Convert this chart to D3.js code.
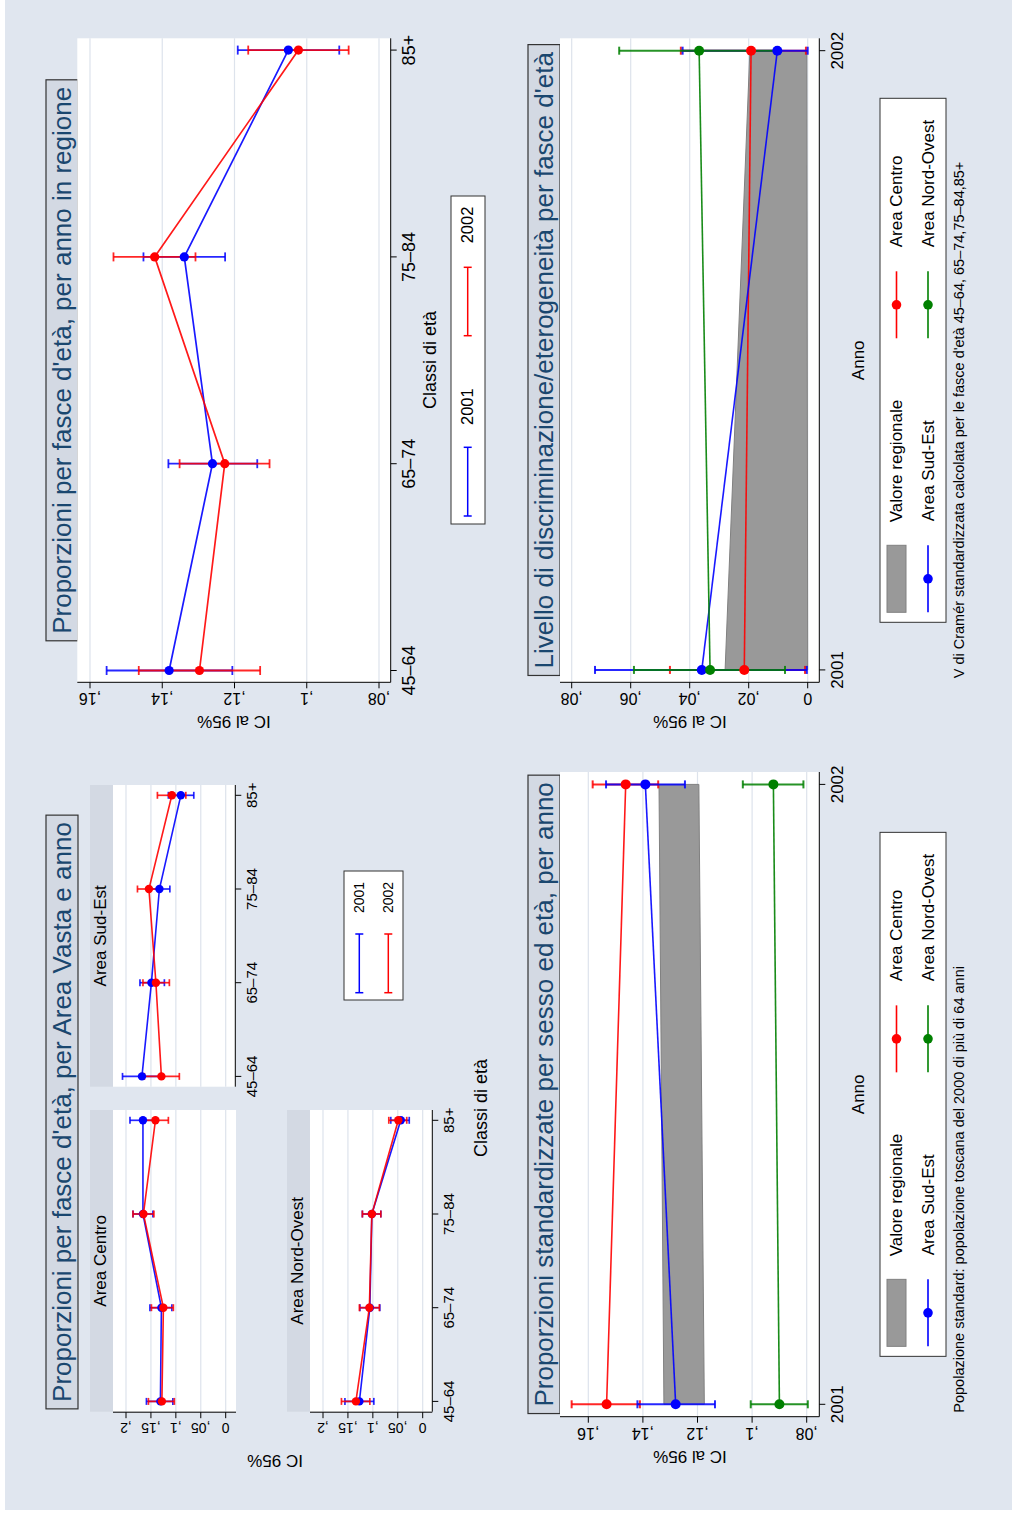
<!DOCTYPE html>
<html>
<head>
<meta charset="utf-8">
<title>Proporzioni per fasce d'età</title>
<script src="https://cdn.jsdelivr.net/npm/d3@7"></script>
<style>
  body { margin: 0; background: #fff; }
  svg { display: block; }
  text { font-family: "Liberation Sans", Arial, Helvetica, sans-serif; fill: #000; }
</style>
</head>
<body>
<script>
// classi di eta' e anni
var classi = ["45–64", "65–74", "75–84", "85+"];
var anni = ["2001", "2002"];

// Area Vasta: proporzioni per fascia d'eta' (stima e IC 95%)
var centro2001 = [0.131, 0.129, 0.166, 0.166];
var centro2001ci = [[0.106, 0.159], [0.108, 0.152], [0.146, 0.186], [0.141, 0.192]];
var centro2002 = [0.128, 0.125, 0.165, 0.141];
var centro2002ci = [[0.103, 0.155], [0.105, 0.149], [0.144, 0.186], [0.115, 0.166]];
var sudEst2001 = [0.168, 0.149, 0.133, 0.090];
var sudEst2001ci = [[0.129, 0.207], [0.123, 0.172], [0.112, 0.154], [0.064, 0.115]];
var sudEst2002 = [0.129, 0.140, 0.154, 0.108];
var sudEst2002ci = [[0.093, 0.163], [0.113, 0.166], [0.133, 0.177], [0.080, 0.137]];
var nordOvest2001 = [0.127, 0.106, 0.102, 0.044];
var nordOvest2001ci = [[0.098, 0.156], [0.086, 0.126], [0.084, 0.121], [0.027, 0.064]];
var nordOvest2002 = [0.134, 0.107, 0.102, 0.049];
var nordOvest2002ci = [[0.106, 0.163], [0.087, 0.127], [0.084, 0.121], [0.032, 0.068]];

// regione, per anno
var regione2001 = [0.1381, 0.1261, 0.1339, 0.1051];
var regione2001ci = [[0.1206, 0.1554], [0.1137, 0.1383], [0.1226, 0.1452], [0.0910, 0.1191]];
var regione2002 = [0.1297, 0.1227, 0.1421, 0.1023];
var regione2002ci = [[0.1129, 0.1465], [0.1103, 0.1352], [0.1308, 0.1535], [0.0884, 0.1162]];

// proporzioni standardizzate (2001, 2002)
var stdRegioneCi = [[0.1175, 0.1323], [0.1195, 0.1341]];
var stdCentro = [0.1533, 0.1463];
var stdCentroCi = [[0.1411, 0.1661], [0.1344, 0.1584]];
var stdSudEst = [0.1280, 0.1391];
var stdSudEstCi = [[0.1136, 0.1420], [0.1246, 0.1535]];
var stdNordOvest = [0.0900, 0.0922];
var stdNordOvestCi = [[0.0796, 0.1005], [0.0812, 0.1034]];

// V di Cramer (2001, 2002)
var vRegioneCi = [[0.0, 0.0280], [0.0003, 0.0196]];
var vCentro = [0.0215, 0.0192];
var vCentroCi = [[0.0009, 0.0467], [0.0006, 0.0430]];
var vSudEst = [0.0359, 0.0103];
var vSudEstCi = [[0.0003, 0.0721], [0.0, 0.0424]];
var vNordOvest = [0.0331, 0.0368];
var vNordOvestCi = [[0.0077, 0.0589], [0.0099, 0.0639]];

// tick
var ticksArea = [0, 0.05, 0.1, 0.15, 0.2];
var ticksRegione = [0.08, 0.10, 0.12, 0.14, 0.16];
var ticksStd = [0.08, 0.10, 0.12, 0.14, 0.16];
var ticksCramer = [0, 0.02, 0.04, 0.06, 0.08];

var BG = "#e0e6ef", STRIP = "#d3d9e3", GRID = "#dde3ec", TITLE = "#1a476f";
var BLUE = "#0000ff", RED = "#ff0000", GREEN = "#008000", BAND = "#999999";

// comma decimal, no leading zero (Stata style)
function itFmt(v) {
  if (v === 0) return "0";
  return d3.format(".2~f")(v).replace(/^0\./, ",");
}

var svg = d3.select("body").append("svg").attr("width", 1018).attr("height", 1517);
svg.append("rect").attr("x", 5).attr("y", 0).attr("width", 1007).attr("height", 1510).attr("fill", BG);

// the page is landscape, turned a quarter left
var page = svg.append("g").attr("transform", "translate(0,1517) rotate(-90)");

function titleBox(cx, y0, y1, txt) {
  var r = page.append("rect");
  var t = page.append("text").attr("x", cx).attr("y", (y0 + y1) / 2).attr("dy", "0.35em")
    .attr("text-anchor", "middle").style("font-size", "26px").style("fill", TITLE).text(txt);
  var bb = t.node().getBBox();
  r.attr("x", bb.x - 7).attr("width", bb.width + 14).attr("y", y0).attr("height", y1 - y0)
    .attr("fill", STRIP).attr("stroke", "#333").attr("stroke-width", 1.2);
}

function plotBg(x0, x1, y0, y1) {
  page.append("rect").attr("x", x0).attr("y", y0).attr("width", x1 - x0).attr("height", y1 - y0).attr("fill", "#fff");
}

function gridLines(y, ticks, x0, x1) {
  page.append("g").selectAll("line").data(ticks).join("line")
    .attr("x1", x0).attr("x2", x1).attr("y1", d => y(d)).attr("y2", d => y(d))
    .attr("stroke", GRID).attr("stroke-width", 1.2);
}

function yAxis(ax, y0, y1, y, ticks, fs) {
  var g = page.append("g");
  g.append("line").attr("x1", ax).attr("x2", ax).attr("y1", y0).attr("y2", y1).attr("stroke", "#000");
  g.selectAll(".tk").data(ticks).join("line").attr("class", "tk")
    .attr("x1", ax - 6).attr("x2", ax).attr("y1", d => y(d)).attr("y2", d => y(d)).attr("stroke", "#000");
  g.selectAll("text").data(ticks).join("text")
    .attr("transform", d => "translate(" + (ax - 11) + "," + y(d) + ") rotate(-90)")
    .attr("text-anchor", "middle").style("font-size", fs + "px").text(itFmt);
}

function xAxis(ay, x0, x1, x, cats, fs, off) {
  var g = page.append("g");
  g.append("line").attr("x1", x0).attr("x2", x1).attr("y1", ay).attr("y2", ay).attr("stroke", "#000");
  g.selectAll(".tk").data(cats).join("line").attr("class", "tk")
    .attr("x1", d => x(d)).attr("x2", d => x(d)).attr("y1", ay).attr("y2", ay + 6).attr("stroke", "#000");
  g.selectAll("text").data(cats).join("text")
    .attr("x", d => x(d)).attr("y", ay + off)
    .attr("text-anchor", "middle").style("font-size", fs + "px").text(d => d);
}

function ciBars(x, y, cats, ci, color, cap, w) {
  var g = page.append("g").attr("stroke", color).attr("stroke-width", w).attr("stroke-opacity", 0.85);
  g.selectAll(".v").data(ci).join("line").attr("class", "v")
    .attr("x1", (d, i) => x(cats[i])).attr("x2", (d, i) => x(cats[i]))
    .attr("y1", d => y(d[0])).attr("y2", d => y(d[1]));
  [0, 1].forEach(function (k) {
    g.selectAll(".c" + k).data(ci).join("line").attr("class", "c" + k)
      .attr("x1", (d, i) => x(cats[i]) - cap).attr("x2", (d, i) => x(cats[i]) + cap)
      .attr("y1", d => y(d[k])).attr("y2", d => y(d[k]));
  });
}

function lineDots(x, y, cats, est, color, r, w) {
  var line = d3.line().x((d, i) => x(cats[i])).y(d => y(d));
  page.append("path").datum(est).attr("d", line).attr("fill", "none")
    .attr("stroke", color).attr("stroke-width", w).attr("stroke-opacity", 0.9);
  page.append("g").selectAll("circle").data(est).join("circle")
    .attr("cx", (d, i) => x(cats[i])).attr("cy", d => y(d)).attr("r", r).attr("fill", color);
}

function rotLabel(x, y, txt, fs) {
  page.append("text").attr("transform", "translate(" + x + "," + y + ") rotate(-90)")
    .attr("text-anchor", "middle").style("font-size", fs + "px").text(txt);
}

function label(x, y, txt, fs, anchor) {
  return page.append("text").attr("x", x).attr("y", y).attr("text-anchor", anchor || "middle")
    .style("font-size", fs + "px").text(txt);
}

function capSymbol(x0, x1, yy, color) {
  var g = page.append("g").attr("stroke", color).attr("stroke-width", 1.5);
  g.append("line").attr("x1", x0).attr("x2", x1).attr("y1", yy).attr("y2", yy);
  g.append("line").attr("x1", x0).attr("x2", x0).attr("y1", yy - 4).attr("y2", yy + 4);
  g.append("line").attr("x1", x1).attr("x2", x1).attr("y1", yy - 4).attr("y2", yy + 4);
}

/* ---------- A: per Area Vasta e anno ---------- */
titleBox(405, 46, 78, "Proporzioni per fasce d'età, per Area Vasta e anno");

var panelsA = [
  { name: "Area Centro", x0: 105.3, x1: 407, y0: 113, y1: 236, yAx: true, xAx: false,
    e1: centro2001, c1: centro2001ci, e2: centro2002, c2: centro2002ci },
  { name: "Area Sud-Est", x0: 430.3, x1: 732, y0: 113, y1: 235.3, yAx: false, xAx: true,
    e1: sudEst2001, c1: sudEst2001ci, e2: sudEst2002, c2: sudEst2002ci },
  { name: "Area Nord-Ovest", x0: 105.3, x1: 407, y0: 310, y1: 432.3, yAx: true, xAx: true,
    e1: nordOvest2001, c1: nordOvest2001ci, e2: nordOvest2002, c2: nordOvest2002ci }
];

panelsA.forEach(function (p) {
  var x = d3.scalePoint().domain(classi).range([p.x0, p.x1]).padding(0.11);
  var y = d3.scaleLinear().domain([0, 0.2]).range([p.y0 + 112.7, p.y0 + 13]);
  page.append("rect").attr("x", p.x0).attr("y", p.y0 - 23).attr("width", p.x1 - p.x0).attr("height", 23).attr("fill", STRIP);
  label((p.x0 + p.x1) / 2, p.y0 - 7, p.name, 17);
  plotBg(p.x0, p.x1, p.y0, p.y1);
  gridLines(y, ticksArea, p.x0, p.x1);
  if (p.yAx) yAxis(p.x0 - 0.5, p.y0, p.y1, y, ticksArea, 14);
  if (p.xAx) xAxis(p.y1, p.x0, p.x1, x, classi, 15, 22);
  ciBars(x, y, classi, p.c1, BLUE, 3.5, 1.7);
  ciBars(x, y, classi, p.c2, RED, 3.5, 1.7);
  lineDots(x, y, classi, p.e1, BLUE, 4.2, 1.6);
  lineDots(x, y, classi, p.e2, RED, 4.2, 1.6);
});

rotLabel(62, 275, "IC 95%", 17);
label(409, 487, "Classi di età", 18);

page.append("rect").attr("x", 517).attr("y", 344).attr("width", 129).attr("height", 59)
  .attr("fill", "#fff").attr("stroke", "#333");
capSymbol(524.3, 583, 359.3, BLUE);
capSymbol(524.3, 583, 388.3, RED);
label(604, 359.3, "2001", 14, "start").attr("dy", "0.35em");
label(604, 388.3, "2002", 14, "start").attr("dy", "0.35em");

/* ---------- B: per anno in regione ---------- */
titleBox(1156.7, 46, 78, "Proporzioni per fasce d'età, per anno in regione");
(function () {
  var x = d3.scalePoint().domain(classi).range([834.7, 1478.7]).padding(0.057);
  var y = d3.scaleLinear().domain([0.08, 0.16]).range([379, 90]);
  plotBg(834.7, 1478.7, 77.3, 390.7);
  gridLines(y, ticksRegione, 834.7, 1478.7);
  yAxis(834.7, 77.3, 390.7, y, ticksRegione, 16);
  xAxis(390.7, 834.7, 1478.7, x, classi, 18, 24);
  ciBars(x, y, classi, regione2001ci, BLUE, 4.5, 1.8);
  ciBars(x, y, classi, regione2002ci, RED, 4.5, 1.8);
  lineDots(x, y, classi, regione2001, BLUE, 4.6, 1.7);
  lineDots(x, y, classi, regione2002, RED, 4.6, 1.7);
  rotLabel(801, 234, "IC al 95%", 17);
  label(1157, 436, "Classi di età", 18);

  page.append("rect").attr("x", 993).attr("y", 451).attr("width", 328).attr("height", 34)
    .attr("fill", "#fff").attr("stroke", "#333");
  capSymbol(1001, 1069.7, 467.7, BLUE);
  capSymbol(1181.3, 1249.7, 467.7, RED);
  label(1092, 467.7, "2001", 16.5, "start").attr("dy", "0.35em");
  label(1273.7, 467.7, "2002", 16.5, "start").attr("dy", "0.35em");
})();

/* ---------- C e D: per anno ---------- */
function yearPanel(opt) {
  var x = d3.scalePoint().domain(anni).range([opt.x0, opt.x1]).padding(0.02);
  var y = d3.scaleLinear().domain(opt.dom).range(opt.rng);
  titleBox((opt.x0 + opt.x1) / 2, 528, 560, opt.title);
  plotBg(opt.x0, opt.x1, 560, 819.3);
  gridLines(y, opt.ticks, opt.x0, opt.x1);
  var area = d3.area().x((d, i) => x(anni[i])).y0(d => y(d[0])).y1(d => y(d[1]));
  page.append("path").datum(opt.band).attr("d", area).attr("fill", BAND)
    .attr("stroke", "#808080").attr("stroke-width", 1);
  yAxis(opt.x0, 560, 819.3, y, opt.ticks, 16);
  xAxis(819.3, opt.x0, opt.x1, x, anni, 17, 24);
  opt.series.forEach(s => ciBars(x, y, anni, s.ci, s.color, 4, 2));
  opt.series.forEach(s => lineDots(x, y, anni, s.est, s.color, 5, 1.6));
  rotLabel(opt.ytx, 690, "IC al 95%", 17);
  var cx = (opt.x0 + opt.x1) / 2;
  label(cx, 864, "Anno", 17);

  // legenda
  var ox = cx - 1157;
  page.append("rect").attr("x", 895 + ox).attr("y", 880).attr("width", 524).attr("height", 66)
    .attr("fill", "#fff").attr("stroke", "#333");
  page.append("rect").attr("x", 905 + ox).attr("y", 887).attr("width", 67).attr("height", 19)
    .attr("fill", BAND).attr("stroke", "#808080");
  var items = [
    { x: 905, y: 928, c: BLUE, t: "Area Sud-Est" },
    { x: 1179, y: 896.5, c: RED, t: "Area Centro" },
    { x: 1179, y: 928, c: GREEN, t: "Area Nord-Ovest" }
  ];
  items.forEach(function (it) {
    page.append("line").attr("x1", it.x + ox).attr("x2", it.x + 67 + ox).attr("y1", it.y).attr("y2", it.y)
      .attr("stroke", it.c).attr("stroke-width", 1.6);
    page.append("circle").attr("cx", it.x + 33.5 + ox).attr("cy", it.y).attr("r", 4.8).attr("fill", it.c);
    label(it.x + 91 + ox, it.y, it.t, 17, "start").attr("dy", "0.35em");
  });
  label(995 + ox, 896.5, "Valore regionale", 17, "start").attr("dy", "0.35em");
  label(opt.x0 + 4, 964, opt.note, 14.5, "start");
}

yearPanel({
  x0: 100.3, x1: 745, dom: [0.08, 0.16], rng: [806.7, 588.3], ticks: ticksStd, ytx: 66,
  title: "Proporzioni standardizzate per sesso ed età, per anno",
  band: stdRegioneCi,
  series: [
    { est: stdCentro, ci: stdCentroCi, color: RED },
    { est: stdSudEst, ci: stdSudEstCi, color: BLUE },
    { est: stdNordOvest, ci: stdNordOvestCi, color: GREEN }
  ],
  note: "Popolazione standard: popolazione toscana del 2000 di più di 64 anni"
});

yearPanel({
  x0: 834.7, x1: 1478.7, dom: [0, 0.08], rng: [807.7, 571.7], ticks: ticksCramer, ytx: 801,
  title: "Livello di discriminazione/eterogeneità per fasce d'età",
  band: vRegioneCi,
  series: [
    { est: vCentro, ci: vCentroCi, color: RED },
    { est: vSudEst, ci: vSudEstCi, color: BLUE },
    { est: vNordOvest, ci: vNordOvestCi, color: GREEN }
  ],
  note: "V di Cramér standardizzata calcolata per le fasce d'età 45–64, 65–74,75–84,85+"
});
</script>
</body>
</html>
